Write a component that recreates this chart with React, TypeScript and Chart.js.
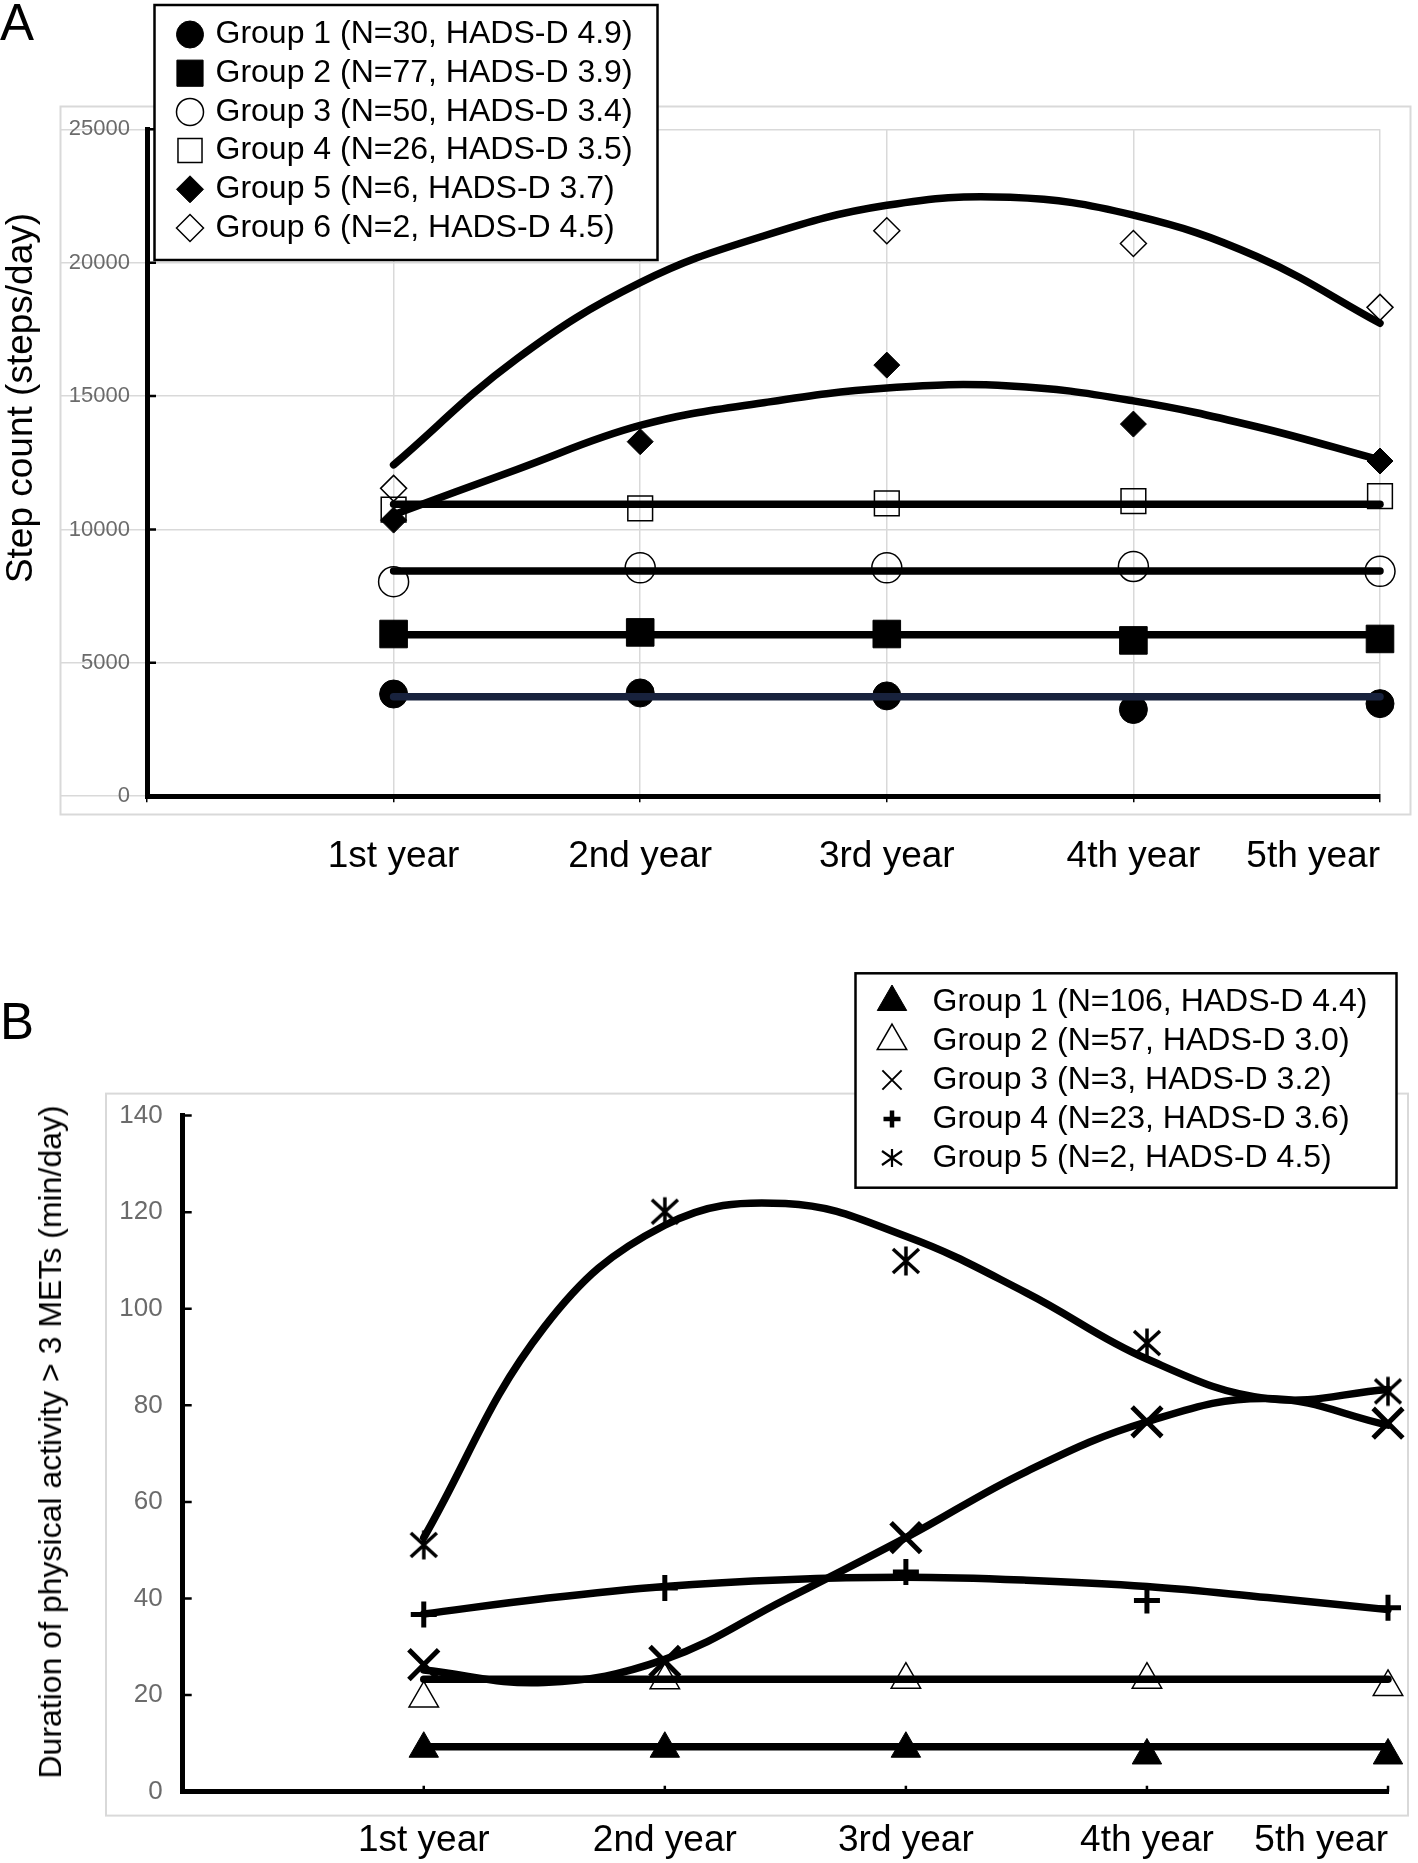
import React, { useEffect, useRef } from 'react';
import { Chart, registerables } from 'chart.js';
import { drawPoint } from 'chart.js/helpers';

Chart.register(...registerables);

// ---------- shared categories ----------
const YEAR_LABELS = ['1st year', '2nd year', '3rd year', '4th year', '5th year'];
const YEAR_X = [1, 2, 3, 4, 5];
const FIT_X = [1, 1.5, 2, 2.5, 3, 3.5, 4, 4.5, 5];

// ---------- Panel A : step count ----------
const A_LABELS = [
  'Group 1 (N=30, HADS-D 4.9)',
  'Group 2 (N=77, HADS-D 3.9)',
  'Group 3 (N=50, HADS-D 3.4)',
  'Group 4 (N=26, HADS-D 3.5)',
  'Group 5 (N=6, HADS-D 3.7)',
  'Group 6 (N=2, HADS-D 4.5)',
];
const A_Y_MAX = 25000;
const A_Y_STEP = 5000;
const A_G1 = [3830, 3870, 3760, 3250, 3470];
const A_G2 = [6080, 6140, 6080, 5840, 5895];
const A_G3 = [8040, 8560, 8560, 8610, 8430];
const A_G4 = [10745, 10790, 10980, 11065, 11250];
const A_G5 = [10350, 13290, 16160, 13950, 12565];
const A_G6 = [11540, null, 21195, 20720, 18325];
const A_G1_FIT = [3730, 3730, 3730, 3730, 3730];
const A_G2_FIT = [6050, 6050, 6050, 6050, 6050];
const A_G3_FIT = [8440, 8440, 8440, 8440, 8440];
const A_G4_FIT = [10940, 10940, 10940, 10940, 10940];
const A_G5_FIT = [10550, 12250, 13900, 14750, 15300, 15380, 14820, 13850, 12600];
const A_G6_FIT = [12420, 16400, 19250, 21000, 22150, 22450, 21780, 20230, 17730];

// ---------- Panel B : MVPA duration ----------
const B_LABELS = [
  'Group 1 (N=106, HADS-D 4.4)',
  'Group 2 (N=57, HADS-D 3.0)',
  'Group 3 (N=3, HADS-D 3.2)',
  'Group 4 (N=23, HADS-D 3.6)',
  'Group 5 (N=2, HADS-D 4.5)',
];
const B_Y_MAX = 140;
const B_Y_STEP = 20;
const B_G1 = [8.9, 8.9, 8.9, 7.5, 7.5];
const B_G2 = [19.3, 23.1, 23.2, 23.2, 21.7];
const B_G3 = [26.3, 27.0, 52.6, 76.6, 76.3];
const B_G4 = [36.7, 42.2, 45.5, 39.6, 38.1];
const B_G5 = [51.1, 120.1, 109.9, 92.9, 82.9];
const B_G1_FIT = [9.3, 9.3, 9.3, 9.3, 9.3];
const B_G2_FIT = [23.3, 23.3, 23.3, 23.3, 23.3];
const B_G3_FIT = [25.2, 22.6, 27.4, 39.8, 52.6, 66.3, 76.6, 81.4, 75.9];
const B_G4_FIT = [36.8, 40.0, 42.5, 43.9, 44.4, 43.8, 42.5, 40.2, 37.7];
const B_G5_FIT = [52.6, 96.2, 117.3, 121.8, 115.0, 103.3, 89.6, 81.4, 83.3];

const FONT = '"Liberation Sans", Arial, Helvetica, sans-serif';
const CLEAR = 'rgba(0,0,0,0)';

function pts(xs: number[], ys: (number | null)[]) {
  return ys.map((y, i) => ({ x: xs[i], y }));
}

function makeAsterisk(w: number, h: number, lw: number, ax: number, ay: number, vy: number) {
  const c = document.createElement('canvas');
  c.width = w;
  c.height = h;
  const g = c.getContext('2d')!;
  g.strokeStyle = '#000';
  g.lineWidth = lw;
  const cx = w / 2, cy = h / 2;
  g.beginPath();
  g.moveTo(cx - ax, cy - ay); g.lineTo(cx + ax, cy + ay);
  g.moveTo(cx - ax, cy + ay); g.lineTo(cx + ax, cy - ay);
  g.moveTo(cx, cy - vy); g.lineTo(cx, cy + vy);
  g.stroke();
  return c;
}

type MarkerStyle = { style: any; r: number; fill: string; lw: number };

function markerSet(label: string, ys: (number | null)[], st: MarkerStyle) {
  return {
    label,
    data: pts(YEAR_X, ys),
    showLine: false,
    pointStyle: st.style,
    pointRadius: st.r,
    pointHoverRadius: st.r,
    pointBackgroundColor: st.fill,
    pointBorderColor: '#000',
    pointBorderWidth: st.lw,
    order: 1,
    clip: false as any,
  };
}

function fitSet(xs: number[], ys: number[], color = '#000') {
  return {
    label: '',
    data: pts(xs, ys),
    showLine: true,
    pointRadius: 0,
    pointHoverRadius: 0,
    borderColor: color,
    borderWidth: 7.5,
    tension: 0.4,
    borderCapStyle: 'round',
    borderJoinStyle: 'round',
    fill: false,
    order: 0,
    clip: false as any,
  };
}

type LegendCfg = {
  box: { x: number; y: number; w: number; h: number; lw: number };
  markerX: number;
  textX: number;
  firstY: number;
  gap: number;
  font: string;
  items: { label: string; st: MarkerStyle }[];
};

function legendPlugin(cfg: LegendCfg) {
  return {
    id: 'groupLegend',
    afterDraw(chart: any) {
      const ctx = chart.ctx;
      ctx.save();
      ctx.fillStyle = '#fff';
      ctx.fillRect(cfg.box.x, cfg.box.y, cfg.box.w, cfg.box.h);
      ctx.strokeStyle = '#000';
      ctx.lineWidth = cfg.box.lw;
      ctx.strokeRect(cfg.box.x, cfg.box.y, cfg.box.w, cfg.box.h);
      cfg.items.forEach((it, i) => {
        const y = cfg.firstY + i * cfg.gap;
        ctx.fillStyle = it.st.fill;
        ctx.strokeStyle = '#000';
        ctx.lineWidth = it.st.lw;
        drawPoint(ctx, { pointStyle: it.st.style, radius: it.st.r, borderWidth: it.st.lw, rotation: 0 } as any, cfg.markerX, y);
        ctx.fillStyle = '#000';
        ctx.font = cfg.font;
        ctx.textAlign = 'left';
        ctx.textBaseline = 'middle';
        ctx.fillText(it.label, cfg.textX, y);
      });
      ctx.restore();
    },
  };
}

function framePlugin(rect: { x: number; y: number; w: number; h: number }) {
  return {
    id: 'frame',
    beforeDraw(chart: any) {
      const ctx = chart.ctx;
      ctx.save();
      ctx.strokeStyle = '#d9d9d9';
      ctx.lineWidth = 2;
      ctx.strokeRect(rect.x, rect.y, rect.w, rect.h);
      ctx.restore();
    },
  };
}

function innerTicksPlugin(yLen: number, xLen: number, lw: number) {
  return {
    id: 'innerTicks',
    afterDatasetsDraw(chart: any) {
      const { ctx, chartArea, scales } = chart;
      ctx.save();
      ctx.strokeStyle = '#000';
      ctx.lineWidth = lw;
      ctx.beginPath();
      if (yLen > 0) {
        scales.y.ticks.forEach((t: any) => {
          const py = scales.y.getPixelForValue(t.value);
          ctx.moveTo(chartArea.left, py);
          ctx.lineTo(chartArea.left + yLen, py);
        });
      }
      if (xLen > 0) {
        scales.x.ticks.forEach((t: any) => {
          if (t.value === 0) return;
          const px = scales.x.getPixelForValue(t.value);
          ctx.moveTo(px, chartArea.bottom);
          ctx.lineTo(px, chartArea.bottom - xLen);
        });
      }
      ctx.stroke();
      ctx.restore();
    },
  };
}

function xAxis(height: number, padding: number, gridOn: boolean) {
  return {
    type: 'linear',
    min: 0,
    max: 5,
    afterFit: (s: any) => { s.height = height; },
    ticks: {
      stepSize: 1,
      autoSkip: false,
      maxRotation: 0,
      minRotation: 0,
      align: 'inner',
      padding,
      color: '#000',
      font: { family: FONT, size: 37, lineHeight: 1.2 },
      callback: (v: any) => YEAR_LABELS[Number(v) - 1] ?? '',
    },
    grid: gridOn
      ? { display: true, color: '#d9d9d9', lineWidth: 1.5, tickColor: '#000', tickLength: 6, drawTicks: true }
      : { display: false, drawTicks: false },
    border: { display: true, color: '#000', width: 5 },
  };
}

export default function App() {
  const refA = useRef<HTMLCanvasElement>(null);
  const refB = useRef<HTMLCanvasElement>(null);

  useEffect(() => {
    const asterData = makeAsterisk(34, 34, 3.5, 13, 12, 14.5);
    const asterLegend = makeAsterisk(26, 24, 2.2, 10, 7, 9);

    // ---------- styles A ----------
    const A_ST: MarkerStyle[] = [
      { style: 'circle', r: 14, fill: '#000', lw: 1 },
      { style: 'rect', r: 19.5, fill: '#000', lw: 1 },
      { style: 'circle', r: 15, fill: CLEAR, lw: 1.5 },
      { style: 'rect', r: 17.5, fill: CLEAR, lw: 1.5 },
      { style: 'rectRot', r: 13, fill: '#000', lw: 1 },
      { style: 'rectRot', r: 13, fill: CLEAR, lw: 1.5 },
    ];
    const A_LEG: MarkerStyle[] = [
      { style: 'circle', r: 13.5, fill: '#000', lw: 1 },
      { style: 'rect', r: 18.5, fill: '#000', lw: 1 },
      { style: 'circle', r: 13.5, fill: '#fff', lw: 1.5 },
      { style: 'rect', r: 17, fill: '#fff', lw: 1.5 },
      { style: 'rectRot', r: 13.5, fill: '#000', lw: 1 },
      { style: 'rectRot', r: 13.5, fill: '#fff', lw: 1.5 },
    ];
    const aMarks = [A_G1, A_G2, A_G3, A_G4, A_G5, A_G6];

    const chartA = new Chart(refA.current!, {
      type: 'scatter',
      data: {
        datasets: [
          fitSet(YEAR_X, A_G1_FIT, '#18223d'),
          fitSet(YEAR_X, A_G2_FIT),
          fitSet(YEAR_X, A_G3_FIT),
          fitSet(YEAR_X, A_G4_FIT),
          fitSet(FIT_X, A_G5_FIT),
          fitSet(FIT_X, A_G6_FIT),
          ...aMarks.map((ys, i) => markerSet(A_LABELS[i], ys, A_ST[i])),
        ] as any,
      },
      options: {
        responsive: false,
        maintainAspectRatio: false,
        animation: false,
        devicePixelRatio: 1,
        events: [],
        layout: { padding: { top: 129.3, right: 38, left: 0, bottom: 0 } },
        plugins: { legend: { display: false }, tooltip: { enabled: false } },
        scales: {
          x: xAxis(103.8, 32, true) as any,
          y: {
            type: 'linear',
            min: 0,
            max: A_Y_MAX,
            afterFit: (s: any) => { s.width = 147; },
            ticks: {
              stepSize: A_Y_STEP,
              padding: -70,
              color: '#6b6b6b',
              font: { family: FONT, size: 22 },
              callback: (v: any) => String(v),
            },
            grid: { color: '#d9d9d9', lineWidth: 1.5, tickLength: 87, drawTicks: true },
            border: { display: true, color: '#000', width: 5 },
          } as any,
        },
      },
      plugins: [
        framePlugin({ x: 60.5, y: 106.5, w: 1350, h: 708 }),
        innerTicksPlugin(9, 0, 2.5),
        legendPlugin({
          box: { x: 154.5, y: 5, w: 503, h: 255, lw: 2.5 },
          markerX: 190,
          textX: 215.5,
          firstY: 34.5,
          gap: 38.7,
          font: `32px ${FONT}`,
          items: A_LABELS.map((label, i) => ({ label, st: A_LEG[i] })),
        }),
      ] as any,
    });

    // ---------- styles B ----------
    const B_ST: MarkerStyle[] = [
      { style: 'triangle', r: 17, fill: '#000', lw: 1 },
      { style: 'triangle', r: 17, fill: CLEAR, lw: 1.5 },
      { style: 'crossRot', r: 21, fill: CLEAR, lw: 5 },
      { style: 'cross', r: 13, fill: CLEAR, lw: 5 },
      { style: asterData, r: 15, fill: CLEAR, lw: 1 },
    ];
    const B_LEG: MarkerStyle[] = [
      { style: 'triangle', r: 17, fill: '#000', lw: 1 },
      { style: 'triangle', r: 17, fill: '#fff', lw: 1.5 },
      { style: 'crossRot', r: 13.6, fill: CLEAR, lw: 2 },
      { style: 'cross', r: 8.5, fill: CLEAR, lw: 4.5 },
      { style: asterLegend, r: 10, fill: CLEAR, lw: 1 },
    ];
    const bMarks = [B_G1, B_G2, B_G3, B_G4, B_G5];

    const chartB = new Chart(refB.current!, {
      type: 'scatter',
      data: {
        datasets: [
          fitSet(YEAR_X, B_G1_FIT),
          fitSet(YEAR_X, B_G2_FIT),
          fitSet(FIT_X, B_G3_FIT),
          fitSet(FIT_X, B_G4_FIT),
          fitSet(FIT_X, B_G5_FIT),
          ...bMarks.map((ys, i) => markerSet(B_LABELS[i], ys, B_ST[i])),
        ] as any,
      },
      options: {
        responsive: false,
        maintainAspectRatio: false,
        animation: false,
        devicePixelRatio: 1,
        events: [],
        layout: { padding: { top: 215.6, right: 30, left: 0, bottom: 0 } },
        plugins: { legend: { display: false }, tooltip: { enabled: false } },
        scales: {
          x: xAxis(71.3, 27, false) as any,
          y: {
            type: 'linear',
            min: 0,
            max: B_Y_MAX,
            afterFit: (s: any) => { s.width = 182.7; },
            ticks: {
              stepSize: B_Y_STEP,
              padding: 20,
              color: '#6b6b6b',
              font: { family: FONT, size: 26 },
              callback: (v: any) => String(v),
            },
            grid: { display: false, drawTicks: false },
            border: { display: true, color: '#000', width: 5 },
          } as any,
        },
      },
      plugins: [
        framePlugin({ x: 106, y: 193.6, w: 1302, h: 722 }),
        innerTicksPlugin(9, 6, 2.5),
        legendPlugin({
          box: { x: 855.5, y: 73.3, w: 541, h: 214.4, lw: 2.5 },
          markerX: 892,
          textX: 932.5,
          firstY: 102,
          gap: 39,
          font: `32px ${FONT}`,
          items: B_LABELS.map((label, i) => ({ label, st: B_LEG[i] })),
        }),
      ] as any,
    });

    return () => {
      chartA.destroy();
      chartB.destroy();
    };
  }, []);

  const rotTitle = (left: number, top: number, size: number): React.CSSProperties => ({
    position: 'absolute',
    left,
    top,
    transform: 'translate(-50%, -50%) rotate(-90deg)',
    whiteSpace: 'nowrap',
    fontSize: size,
    lineHeight: 1,
    color: '#000',
    fontFamily: FONT,
  });

  return (
    <div
      style={{
        position: 'absolute',
        left: 0,
        top: 0,
        width: 1418,
        height: 1863,
        background: '#fff',
        fontFamily: FONT,
        overflow: 'hidden',
      }}
    >
      <canvas ref={refA} width={1418} height={900} style={{ position: 'absolute', left: 0, top: 0 }} />
      <canvas ref={refB} width={1418} height={963} style={{ position: 'absolute', left: 0, top: 900 }} />
      <div style={{ position: 'absolute', left: 0, top: -3, fontSize: 51, lineHeight: 1, color: '#000' }}>A</div>
      <div style={{ position: 'absolute', left: 0, top: 995.5, fontSize: 51, lineHeight: 1, color: '#000' }}>B</div>
      <div style={rotTitle(19, 398, 37)}>Step count (steps/day)</div>
      <div style={rotTitle(50, 1441.7, 32)}>Duration of physical activity &gt; 3 METs (min/day)</div>
    </div>
  );
}
